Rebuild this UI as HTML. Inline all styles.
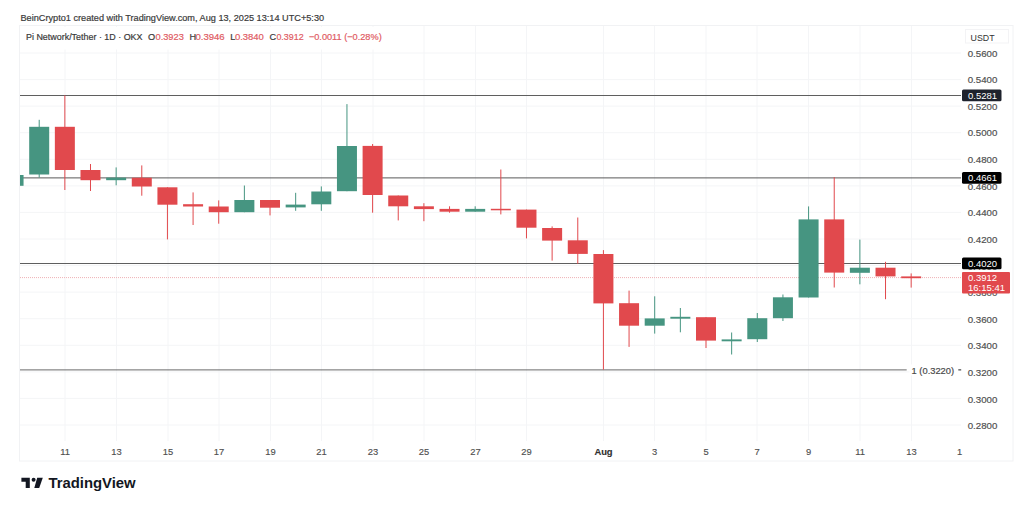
<!DOCTYPE html>
<html><head><meta charset="utf-8">
<style>
html,body{margin:0;padding:0;background:#fff;}
body{width:1024px;height:506px;overflow:hidden;position:relative;font-family:"Liberation Sans",sans-serif;}
svg{position:absolute;left:0;top:0;}
</style></head><body>
<svg width="1024" height="506" viewBox="0 0 1024 506" font-family="Liberation Sans, sans-serif">
<rect x="19.5" y="25.5" width="993.5" height="435.5" fill="none" stroke="#f1f2f4" stroke-width="1"/>
<defs><clipPath id="pane"><rect x="20" y="26" width="941" height="415"/></clipPath></defs>
<g clip-path="url(#pane)">
<line x1="65" y1="26" x2="65" y2="441" stroke="#f4f5f7" stroke-width="1"/>
<line x1="116.5" y1="26" x2="116.5" y2="441" stroke="#f4f5f7" stroke-width="1"/>
<line x1="168" y1="26" x2="168" y2="441" stroke="#f4f5f7" stroke-width="1"/>
<line x1="219" y1="26" x2="219" y2="441" stroke="#f4f5f7" stroke-width="1"/>
<line x1="270.5" y1="26" x2="270.5" y2="441" stroke="#f4f5f7" stroke-width="1"/>
<line x1="321.5" y1="26" x2="321.5" y2="441" stroke="#f4f5f7" stroke-width="1"/>
<line x1="373" y1="26" x2="373" y2="441" stroke="#f4f5f7" stroke-width="1"/>
<line x1="424" y1="26" x2="424" y2="441" stroke="#f4f5f7" stroke-width="1"/>
<line x1="475.5" y1="26" x2="475.5" y2="441" stroke="#f4f5f7" stroke-width="1"/>
<line x1="526.5" y1="26" x2="526.5" y2="441" stroke="#f4f5f7" stroke-width="1"/>
<line x1="603.5" y1="26" x2="603.5" y2="441" stroke="#f4f5f7" stroke-width="1"/>
<line x1="654.5" y1="26" x2="654.5" y2="441" stroke="#f4f5f7" stroke-width="1"/>
<line x1="706" y1="26" x2="706" y2="441" stroke="#f4f5f7" stroke-width="1"/>
<line x1="757" y1="26" x2="757" y2="441" stroke="#f4f5f7" stroke-width="1"/>
<line x1="808.5" y1="26" x2="808.5" y2="441" stroke="#f4f5f7" stroke-width="1"/>
<line x1="860" y1="26" x2="860" y2="441" stroke="#f4f5f7" stroke-width="1"/>
<line x1="911.5" y1="26" x2="911.5" y2="441" stroke="#f4f5f7" stroke-width="1"/>
<line x1="20" y1="53.0" x2="961" y2="53.0" stroke="#f4f5f7" stroke-width="1"/>
<line x1="20" y1="79.6" x2="961" y2="79.6" stroke="#f4f5f7" stroke-width="1"/>
<line x1="20" y1="106.1" x2="961" y2="106.1" stroke="#f4f5f7" stroke-width="1"/>
<line x1="20" y1="132.7" x2="961" y2="132.7" stroke="#f4f5f7" stroke-width="1"/>
<line x1="20" y1="159.3" x2="961" y2="159.3" stroke="#f4f5f7" stroke-width="1"/>
<line x1="20" y1="185.9" x2="961" y2="185.9" stroke="#f4f5f7" stroke-width="1"/>
<line x1="20" y1="212.4" x2="961" y2="212.4" stroke="#f4f5f7" stroke-width="1"/>
<line x1="20" y1="239.0" x2="961" y2="239.0" stroke="#f4f5f7" stroke-width="1"/>
<line x1="20" y1="265.6" x2="961" y2="265.6" stroke="#f4f5f7" stroke-width="1"/>
<line x1="20" y1="292.1" x2="961" y2="292.1" stroke="#f4f5f7" stroke-width="1"/>
<line x1="20" y1="318.7" x2="961" y2="318.7" stroke="#f4f5f7" stroke-width="1"/>
<line x1="20" y1="345.3" x2="961" y2="345.3" stroke="#f4f5f7" stroke-width="1"/>
<line x1="20" y1="371.9" x2="961" y2="371.9" stroke="#f4f5f7" stroke-width="1"/>
<line x1="20" y1="398.4" x2="961" y2="398.4" stroke="#f4f5f7" stroke-width="1"/>
<line x1="20" y1="425.0" x2="961" y2="425.0" stroke="#f4f5f7" stroke-width="1"/>
<line x1="20" y1="451.6" x2="961" y2="451.6" stroke="#f4f5f7" stroke-width="1"/>
<line x1="20" y1="277.6" x2="961" y2="277.6" stroke="#efb1b5" stroke-width="1" stroke-dasharray="1 1"/>
<line x1="20" y1="95.5" x2="961" y2="95.5" stroke="#5f5f5f" stroke-width="1"/>
<line x1="20" y1="177.9" x2="961" y2="177.9" stroke="#5a5a5a" stroke-width="1"/>
<line x1="20" y1="263.5" x2="961" y2="263.5" stroke="#5f5f5f" stroke-width="1"/>
<line x1="20" y1="369.9" x2="906.7" y2="369.9" stroke="#6a6a6a" stroke-width="1"/>
<rect x="13.05" y="175.0" width="1" height="10.8" fill="#469581"/>
<rect x="3.55" y="175.0" width="20" height="10.8" fill="#469581"/>
<rect x="38.70" y="119.8" width="1" height="57.8" fill="#469581"/>
<rect x="29.20" y="126.8" width="20" height="47.7" fill="#469581"/>
<rect x="64.35" y="95.3" width="1" height="94.7" fill="#e1494d"/>
<rect x="54.85" y="126.8" width="20" height="43.2" fill="#e1494d"/>
<rect x="89.99" y="164.0" width="1" height="27.0" fill="#e1494d"/>
<rect x="80.49" y="170.0" width="20" height="10.2" fill="#e1494d"/>
<rect x="115.64" y="167.4" width="1" height="17.9" fill="#469581"/>
<rect x="106.14" y="177.6" width="20" height="2.6" fill="#469581"/>
<rect x="141.28" y="165.4" width="1" height="30.3" fill="#e1494d"/>
<rect x="131.78" y="177.7" width="20" height="8.8" fill="#e1494d"/>
<rect x="166.93" y="187.3" width="1" height="52.1" fill="#e1494d"/>
<rect x="157.43" y="187.3" width="20" height="17.4" fill="#e1494d"/>
<rect x="192.58" y="192.4" width="1" height="32.6" fill="#e1494d"/>
<rect x="183.08" y="204.2" width="20" height="2.3" fill="#e1494d"/>
<rect x="218.22" y="200.4" width="1" height="23.3" fill="#e1494d"/>
<rect x="208.72" y="206.5" width="20" height="5.7" fill="#e1494d"/>
<rect x="243.87" y="185.5" width="1" height="26.7" fill="#469581"/>
<rect x="234.37" y="200.0" width="20" height="12.2" fill="#469581"/>
<rect x="269.51" y="200.0" width="1" height="15.4" fill="#e1494d"/>
<rect x="260.01" y="200.0" width="20" height="7.7" fill="#e1494d"/>
<rect x="295.16" y="192.8" width="1" height="18.0" fill="#469581"/>
<rect x="285.66" y="204.6" width="20" height="2.8" fill="#469581"/>
<rect x="320.81" y="186.4" width="1" height="24.4" fill="#469581"/>
<rect x="311.31" y="191.5" width="20" height="12.8" fill="#469581"/>
<rect x="346.45" y="104.1" width="1" height="87.1" fill="#469581"/>
<rect x="336.95" y="146.0" width="20" height="45.2" fill="#469581"/>
<rect x="372.10" y="144.0" width="1" height="68.7" fill="#e1494d"/>
<rect x="362.60" y="145.9" width="20" height="49.1" fill="#e1494d"/>
<rect x="397.74" y="195.5" width="1" height="24.9" fill="#e1494d"/>
<rect x="388.24" y="195.5" width="20" height="10.8" fill="#e1494d"/>
<rect x="423.39" y="203.2" width="1" height="18.0" fill="#e1494d"/>
<rect x="413.89" y="206.3" width="20" height="2.8" fill="#e1494d"/>
<rect x="449.04" y="206.3" width="1" height="6.4" fill="#e1494d"/>
<rect x="439.54" y="208.9" width="20" height="2.8" fill="#e1494d"/>
<rect x="474.68" y="206.3" width="1" height="5.4" fill="#469581"/>
<rect x="465.18" y="208.9" width="20" height="2.8" fill="#469581"/>
<rect x="500.33" y="169.5" width="1" height="44.9" fill="#e1494d"/>
<rect x="490.83" y="208.8" width="20" height="1.5" fill="#e1494d"/>
<rect x="525.97" y="209.6" width="1" height="28.8" fill="#e1494d"/>
<rect x="516.47" y="209.6" width="20" height="18.1" fill="#e1494d"/>
<rect x="551.62" y="226.4" width="1" height="34.2" fill="#e1494d"/>
<rect x="542.12" y="228.0" width="20" height="12.6" fill="#e1494d"/>
<rect x="577.27" y="217.5" width="1" height="46.2" fill="#e1494d"/>
<rect x="567.77" y="240.3" width="20" height="13.6" fill="#e1494d"/>
<rect x="602.91" y="250.1" width="1" height="119.5" fill="#e1494d"/>
<rect x="593.41" y="254.0" width="20" height="49.4" fill="#e1494d"/>
<rect x="628.56" y="290.6" width="1" height="56.3" fill="#e1494d"/>
<rect x="619.06" y="303.2" width="20" height="22.5" fill="#e1494d"/>
<rect x="654.20" y="296.3" width="1" height="37.3" fill="#469581"/>
<rect x="644.70" y="318.4" width="20" height="7.3" fill="#469581"/>
<rect x="679.85" y="308.0" width="1" height="24.3" fill="#469581"/>
<rect x="670.35" y="316.8" width="20" height="1.9" fill="#469581"/>
<rect x="705.50" y="317.2" width="1" height="30.8" fill="#e1494d"/>
<rect x="696.00" y="317.2" width="20" height="23.4" fill="#e1494d"/>
<rect x="731.14" y="332.5" width="1" height="22.0" fill="#469581"/>
<rect x="721.64" y="339.4" width="20" height="1.9" fill="#469581"/>
<rect x="756.79" y="313.0" width="1" height="29.0" fill="#469581"/>
<rect x="747.29" y="318.2" width="20" height="21.0" fill="#469581"/>
<rect x="782.43" y="294.5" width="1" height="26.5" fill="#469581"/>
<rect x="772.93" y="297.3" width="20" height="20.9" fill="#469581"/>
<rect x="808.08" y="206.4" width="1" height="91.1" fill="#469581"/>
<rect x="798.58" y="219.4" width="20" height="78.1" fill="#469581"/>
<rect x="833.73" y="177.1" width="1" height="110.4" fill="#e1494d"/>
<rect x="824.23" y="219.4" width="20" height="53.2" fill="#e1494d"/>
<rect x="859.37" y="239.6" width="1" height="44.7" fill="#469581"/>
<rect x="849.87" y="267.7" width="20" height="5.1" fill="#469581"/>
<rect x="885.02" y="261.8" width="1" height="37.4" fill="#e1494d"/>
<rect x="875.52" y="267.7" width="20" height="8.7" fill="#e1494d"/>
<rect x="910.66" y="273.4" width="1" height="14.2" fill="#e1494d"/>
<rect x="901.16" y="276.4" width="20" height="1.8" fill="#e1494d"/>
</g>
<g font-size="9.7" fill="#505050" stroke="#505050" stroke-width="0.18">
<text x="967.7" y="56.5">0.5600</text>
<text x="967.7" y="83.2">0.5400</text>
<text x="967.7" y="109.8">0.5200</text>
<text x="967.7" y="136.4">0.5000</text>
<text x="967.7" y="163.0">0.4800</text>
<text x="967.7" y="189.7">0.4600</text>
<text x="967.7" y="216.3">0.4400</text>
<text x="967.7" y="242.9">0.4200</text>
<text x="967.7" y="269.5">0.4000</text>
<text x="967.7" y="296.1">0.3800</text>
<text x="967.7" y="322.7">0.3600</text>
<text x="967.7" y="349.4">0.3400</text>
<text x="967.7" y="376.0">0.3200</text>
<text x="967.7" y="402.6">0.3000</text>
<text x="967.7" y="429.2">0.2800</text>
</g>
<rect x="965.5" y="29.5" width="43" height="13.5" fill="#fff" stroke="#f3f3f5" stroke-width="1"/>
<text x="970.6" y="41" font-size="8.8" fill="#333">USDT</text>
<rect x="962" y="89.5" width="39.5" height="11.7" rx="1.5" fill="#1e222d"/>
<text x="968" y="98.6" font-size="9.5" fill="#fff">0.5281</text>
<rect x="962" y="172" width="39.5" height="11.7" rx="1.5" fill="#000"/>
<text x="968" y="181.1" font-size="9.5" fill="#fff">0.4661</text>
<rect x="962" y="257.5" width="39.5" height="11.8" rx="1.5" fill="#000"/>
<text x="968" y="266.6" font-size="9.5" fill="#fff">0.4020</text>
<rect x="962" y="272" width="48" height="21.5" rx="1" fill="#e1494d"/>
<text x="968" y="281" font-size="9.5" fill="#fff">0.3912</text>
<text x="968" y="291.2" font-size="9.5" fill="#fff">16:15:41</text>
<rect x="909.5" y="364.5" width="53" height="11" fill="#fff"/>
<text x="911.6" y="374.2" font-size="9.4" fill="#4a4a4a" stroke="#4a4a4a" stroke-width="0.2" textLength="42.5" lengthAdjust="spacingAndGlyphs">1 (0.3220)</text>
<rect x="958.3" y="369.2" width="2.9" height="1.3" fill="#555"/>
<g font-size="9.4" fill="#505050" stroke="#505050" stroke-width="0.15">
<text x="65" y="454.6" text-anchor="middle">11</text>
<text x="116.5" y="454.6" text-anchor="middle">13</text>
<text x="168" y="454.6" text-anchor="middle">15</text>
<text x="219" y="454.6" text-anchor="middle">17</text>
<text x="270.5" y="454.6" text-anchor="middle">19</text>
<text x="321.5" y="454.6" text-anchor="middle">21</text>
<text x="373" y="454.6" text-anchor="middle">23</text>
<text x="424" y="454.6" text-anchor="middle">25</text>
<text x="475.5" y="454.6" text-anchor="middle">27</text>
<text x="526.5" y="454.6" text-anchor="middle">29</text>
<text x="603.5" y="454.6" text-anchor="middle" font-weight="bold" fill="#2a2a2a">Aug</text>
<text x="654.5" y="454.6" text-anchor="middle">3</text>
<text x="706" y="454.6" text-anchor="middle">5</text>
<text x="757" y="454.6" text-anchor="middle">7</text>
<text x="808.5" y="454.6" text-anchor="middle">9</text>
<text x="860" y="454.6" text-anchor="middle">11</text>
<text x="911.5" y="454.6" text-anchor="middle">13</text>
<text x="959.5" y="454.6" text-anchor="middle">1</text>
</g>
<text x="20.5" y="20.5" font-size="9.2" fill="#3a3a3a" stroke="#3a3a3a" stroke-width="0.2" textLength="303.6" lengthAdjust="spacingAndGlyphs">BeinCrypto1 created with TradingView.com, Aug 13, 2025 13:14 UTC+5:30</text>
<rect x="22" y="27" width="364" height="22.5" fill="#fff"/>
<g font-size="9.2" fill="#3a3a3a" stroke="#3a3a3a" stroke-width="0.2">
<text x="26" y="40.3" textLength="116.5" lengthAdjust="spacingAndGlyphs">Pi Network/Tether · 1D · OKX</text>
<text x="148" y="40.3">O</text><text x="155.5" y="40.3" fill="#df5b63" stroke="#df5b63" textLength="28.3" lengthAdjust="spacingAndGlyphs">0.3923</text>
<text x="189.4" y="40.3">H</text><text x="195.4" y="40.3" fill="#df5b63" stroke="#df5b63" textLength="29.3" lengthAdjust="spacingAndGlyphs">0.3946</text>
<text x="230.2" y="40.3">L</text><text x="234.9" y="40.3" fill="#df5b63" stroke="#df5b63" textLength="29" lengthAdjust="spacingAndGlyphs">0.3840</text>
<text x="269.6" y="40.3">C</text><text x="276.4" y="40.3" fill="#df5b63" stroke="#df5b63" textLength="27.2" lengthAdjust="spacingAndGlyphs">0.3912</text>
<text x="308.9" y="40.3" fill="#df5b63" stroke="#df5b63" textLength="72.8" lengthAdjust="spacingAndGlyphs">−0.0011 (−0.28%)</text>
</g>
<g fill="#131722">
<path d="M21.4 477.7H29.8V488H25.7V481.8H21.4Z"/>
<circle cx="33.6" cy="479.8" r="2"/>
<path d="M37.2 477.7H42.8L39.2 488H34.3Z"/>
</g>
<text x="48.4" y="488.2" font-size="14.8" font-weight="bold" fill="#131722" textLength="87.3" lengthAdjust="spacingAndGlyphs">TradingView</text>
</svg>
</body></html>
